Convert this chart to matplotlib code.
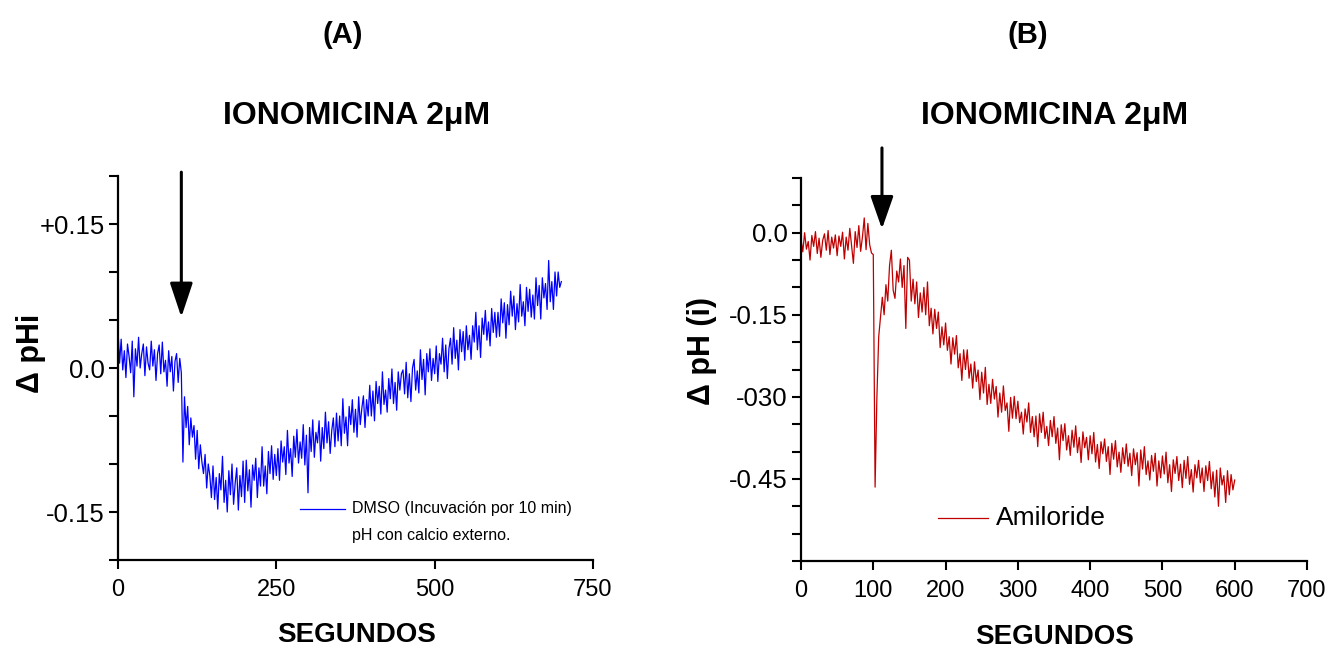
import numpy as np
import matplotlib
matplotlib.use("Agg")
import matplotlib.pyplot as plt
from matplotlib import font_manager as fm
from matplotlib.lines import Line2D

# ---------------- data ----------------
time_a = np.arange(0, 700.1, 2.5)
dph_a = [
    0.040, 0.005, 0.030, -0.002, 0.018, -0.010, 0.025, 0.012, -0.005, 0.028,
    -0.030, 0.020, 0.002, 0.032, 0.000, 0.015, 0.025, -0.008, 0.022, 0.005,
    -0.002, 0.028, 0.002, 0.019, -0.013, 0.015, 0.024, -0.006, 0.027, -0.004,
    0.008, -0.019, 0.018, -0.004, 0.012, -0.024, 0.007, 0.015, -0.015, 0.010,
    -0.005, -0.098, -0.030, -0.062, -0.040, -0.080, -0.052, -0.072, -0.060, -0.095,
    -0.065, -0.105, -0.080, -0.098, -0.110, -0.090, -0.125, -0.100, -0.112, -0.135,
    -0.102, -0.137, -0.114, -0.147, -0.110, -0.127, -0.092, -0.140, -0.117, -0.150,
    -0.107, -0.132, -0.100, -0.142, -0.120, -0.104, -0.148, -0.112, -0.134, -0.097,
    -0.140, -0.096, -0.128, -0.106, -0.145, -0.101, -0.117, -0.094, -0.135, -0.104,
    -0.123, -0.082, -0.123, -0.102, -0.131, -0.087, -0.110, -0.081, -0.116, -0.090,
    -0.112, -0.084, -0.117, -0.076, -0.098, -0.082, -0.111, -0.065, -0.099, -0.084,
    -0.113, -0.071, -0.093, -0.064, -0.099, -0.077, -0.094, -0.059, -0.101, -0.070,
    -0.130, -0.062, -0.087, -0.054, -0.093, -0.067, -0.078, -0.055, -0.097, -0.062,
    -0.084, -0.046, -0.078, -0.056, -0.089, -0.065, -0.052, -0.082, -0.047, -0.076,
    -0.050, -0.081, -0.032, -0.068, -0.051, -0.081, -0.040, -0.059, -0.033, -0.067,
    -0.043, -0.072, -0.030, -0.059, -0.042, -0.029, -0.062, -0.033, -0.050, -0.018,
    -0.050, -0.024, -0.055, -0.014, -0.037, -0.019, -0.048, -0.004, -0.038, -0.023,
    -0.046, -0.011, -0.032, -0.001, -0.037, -0.015, -0.044, -0.004, -0.023, -0.006,
    -0.002, -0.027, 0.006, -0.031, -0.006, -0.035, 0.000, 0.009, -0.023, -0.003,
    -0.026, 0.019, -0.012, 0.009, -0.028, 0.015, -0.004, 0.020, -0.013, 0.010,
    -0.006, 0.023, -0.014, 0.015, 0.004, 0.031, -0.004, 0.024, -0.011, 0.020,
    0.031, 0.004, 0.042, 0.010, 0.029, -0.002, 0.040, 0.017, 0.038, 0.008,
    0.044, 0.019, 0.034, 0.009, 0.044, 0.027, 0.058, 0.019, 0.044, 0.011,
    0.052, 0.035, 0.060, 0.029, 0.048, 0.023, 0.062, 0.037, 0.058, 0.032,
    0.058, 0.033, 0.072, 0.047, 0.068, 0.031, 0.066, 0.045, 0.080, 0.054,
    0.075, 0.040, 0.067, 0.048, 0.087, 0.054, 0.069, 0.044, 0.084, 0.059,
    0.082, 0.053, 0.076, 0.051, 0.094, 0.065, 0.086, 0.051, 0.094, 0.073,
    0.088, 0.061, 0.112, 0.069, 0.090, 0.061, 0.100, 0.075, 0.100, 0.084,
    0.090,
]

time_b = np.arange(0, 600.1, 2.5)
dph_b = [
    -0.012, -0.035, 0.000, -0.030, -0.016, -0.050, -0.005, -0.025, 0.002, -0.038,
    -0.010, -0.045, -0.014, -0.002, -0.032, 0.004, -0.040, -0.008, -0.028, -0.004,
    -0.042, -0.006, -0.025, 0.001, -0.048, -0.008, -0.032, 0.008, -0.024, -0.056,
    0.002, -0.027, 0.013, -0.034, -0.008, 0.027, -0.031, 0.017, -0.022, -0.037,
    -0.040, -0.465, -0.300, -0.190, -0.155, -0.118, -0.150, -0.095, -0.125, -0.060,
    -0.032, -0.105, -0.120, -0.070, -0.090, -0.048, -0.100, -0.060, -0.175, -0.045,
    -0.050, -0.125, -0.085, -0.130, -0.090, -0.155, -0.110, -0.145, -0.100, -0.150,
    -0.090, -0.170, -0.138, -0.185, -0.140, -0.175, -0.145, -0.210, -0.172, -0.205,
    -0.165, -0.215, -0.190, -0.240, -0.192, -0.222, -0.188, -0.247, -0.221, -0.270,
    -0.214, -0.250, -0.214, -0.266, -0.240, -0.284, -0.236, -0.272, -0.251, -0.305,
    -0.255, -0.293, -0.246, -0.314, -0.277, -0.312, -0.268, -0.304, -0.281, -0.337,
    -0.293, -0.328, -0.280, -0.325, -0.311, -0.363, -0.301, -0.339, -0.299, -0.340,
    -0.308, -0.347, -0.328, -0.368, -0.322, -0.346, -0.311, -0.365, -0.336, -0.373,
    -0.335, -0.391, -0.331, -0.365, -0.328, -0.376, -0.354, -0.389, -0.343, -0.373,
    -0.336, -0.385, -0.357, -0.415, -0.351, -0.380, -0.349, -0.397, -0.371, -0.407,
    -0.361, -0.392, -0.353, -0.402, -0.374, -0.420, -0.364, -0.393, -0.374, -0.415,
    -0.371, -0.404, -0.365, -0.419, -0.387, -0.431, -0.382, -0.404, -0.377, -0.418,
    -0.391, -0.442, -0.385, -0.414, -0.380, -0.428, -0.401, -0.438, -0.393, -0.422,
    -0.386, -0.427, -0.403, -0.444, -0.395, -0.424, -0.402, -0.463, -0.397, -0.432,
    -0.391, -0.442, -0.417, -0.452, -0.407, -0.436, -0.403, -0.463, -0.417, -0.448,
    -0.408, -0.441, -0.401, -0.457, -0.424, -0.473, -0.415, -0.440, -0.409, -0.453,
    -0.423, -0.466, -0.416, -0.449, -0.409, -0.460, -0.433, -0.474, -0.424, -0.448,
    -0.416, -0.457, -0.430, -0.473, -0.426, -0.453, -0.418, -0.468, -0.437, -0.483,
    -0.434, -0.500, -0.430, -0.461, -0.444, -0.493, -0.435, -0.479, -0.442, -0.470,
    -0.452,
]

xticks_a = [0, 250, 500, 750]
yticks_a = [-0.20, -0.15, -0.10, -0.05, 0.0, 0.05, 0.10, 0.15, 0.20]
yticklabels_a = ["", "-0.15", "", "", "0.0", "", "", "+0.15", ""]

xticks_b = [0, 100, 200, 300, 400, 500, 600, 700]
yticks_b = [-0.60, -0.55, -0.50, -0.45, -0.40, -0.35, -0.30, -0.25, -0.20,
            -0.15, -0.10, -0.05, 0.0, 0.05, 0.10]
yticklabels_b = ["", "", "", "-0.45", "", "", "-030", "", "",
                 "-0.15", "", "", "0.0", "", ""]

stim_a = 100   # arrow position (s)
stim_b = 112

# ---------------- fonts ----------------
def has_font(name):
    try:
        fm.findfont(fm.FontProperties(family=name), fallback_to_default=False)
        return True
    except Exception:
        return False

NARROW = "Liberation Sans Narrow" if has_font("Liberation Sans Narrow") else "Liberation Sans"
REG = "Liberation Sans"
plt.rcParams["font.family"] = [REG, "DejaVu Sans"]

W, H = 1332, 651
fig = plt.figure(figsize=(W / 100, H / 100), dpi=100)

def axrect(l, r, t, b):
    return [l / W, 1 - b / H, (r - l) / W, (b - t) / H]

ax_a = fig.add_axes(axrect(118, 593, 176, 560))
ax_b = fig.add_axes(axrect(801, 1307, 178, 561))

for ax in (ax_a, ax_b):
    for s in ("top", "right"):
        ax.spines[s].set_visible(False)
    for s in ("left", "bottom"):
        ax.spines[s].set_linewidth(1.6)
    ax.tick_params(direction="out", length=6.5, width=1.5, colors="black")
    ax.tick_params(axis="y", labelsize=18.5, pad=3)
    ax.tick_params(axis="x", labelsize=17, pad=7)

# ---- panel A ----
ax_a.plot(time_a, dph_a, color="#0000ff", lw=0.9)
ax_a.set_xlim(0, 750)
ax_a.set_ylim(-0.20, 0.20)
ax_a.set_xticks(xticks_a)
ax_a.set_yticks(yticks_a, yticklabels_a)
ax_a.annotate("", xy=(stim_a, 0.053), xytext=(stim_a, 0.204),
              arrowprops=dict(arrowstyle="-|>,head_length=2.1,head_width=0.7",
                              mutation_scale=10, lw=2.2, color="black",
                              shrinkA=0, shrinkB=0),
              annotation_clip=False)
ax_a.add_line(Line2D([0.383, 0.478], [0.133, 0.133], transform=ax_a.transAxes,
                     color="#0000ff", lw=0.9))
ax_a.text(0.493, 0.133, "DMSO (Incuvación por 10 min)", transform=ax_a.transAxes,
          fontsize=11.5, va="center", ha="left")
ax_a.text(0.493, 0.065, "pH con calcio externo.", transform=ax_a.transAxes,
          fontsize=11.5, va="center", ha="left")

# ---- panel B ----
ax_b.plot(time_b, dph_b, color="#c00000", lw=0.9)
ax_b.set_xlim(0, 700)
ax_b.set_ylim(-0.60, 0.10)
ax_b.set_xticks(xticks_b)
ax_b.set_yticks(yticks_b, yticklabels_b)
ax_b.annotate("", xy=(stim_b, 0.007), xytext=(stim_b, 0.155),
              arrowprops=dict(arrowstyle="-|>,head_length=2.0,head_width=0.7",
                              mutation_scale=10, lw=2.2, color="black",
                              shrinkA=0, shrinkB=0),
              annotation_clip=False)
ax_b.add_line(Line2D([0.271, 0.370], [0.112, 0.112], transform=ax_b.transAxes,
                     color="#c00000", lw=0.9))
ax_b.text(0.385, 0.112, "Amiloride", transform=ax_b.transAxes,
          fontsize=19, va="center", ha="left")

# ---- titles and axis labels ----
def ftext(px, py, s, **kw):
    fig.text(px / W, 1 - py / H, s, ha="center", va="center", **kw)

ftext(343, 35, "(A)", fontsize=21, fontweight="bold", family=[REG, "DejaVu Sans"])
ftext(1028, 35, "(B)", fontsize=21, fontweight="bold", family=[REG, "DejaVu Sans"])
ftext(357, 116, "IONOMICINA 2μM", fontsize=23, fontweight="bold", family=[NARROW, "DejaVu Sans"])
ftext(1055, 116, "IONOMICINA 2μM", fontsize=23, fontweight="bold", family=[NARROW, "DejaVu Sans"])
ftext(357, 635, "SEGUNDOS", fontsize=20, fontweight="bold", family=[NARROW, "DejaVu Sans"])
ftext(1055, 637, "SEGUNDOS", fontsize=20, fontweight="bold", family=[NARROW, "DejaVu Sans"])
ftext(31, 353, "Δ pHi", fontsize=22, fontweight="bold", rotation=90, family=[REG, "DejaVu Sans"])
ftext(702, 351, "Δ pH (i)", fontsize=22, fontweight="bold", rotation=90, family=[REG, "DejaVu Sans"])

fig.savefig("out.png", dpi=100)
